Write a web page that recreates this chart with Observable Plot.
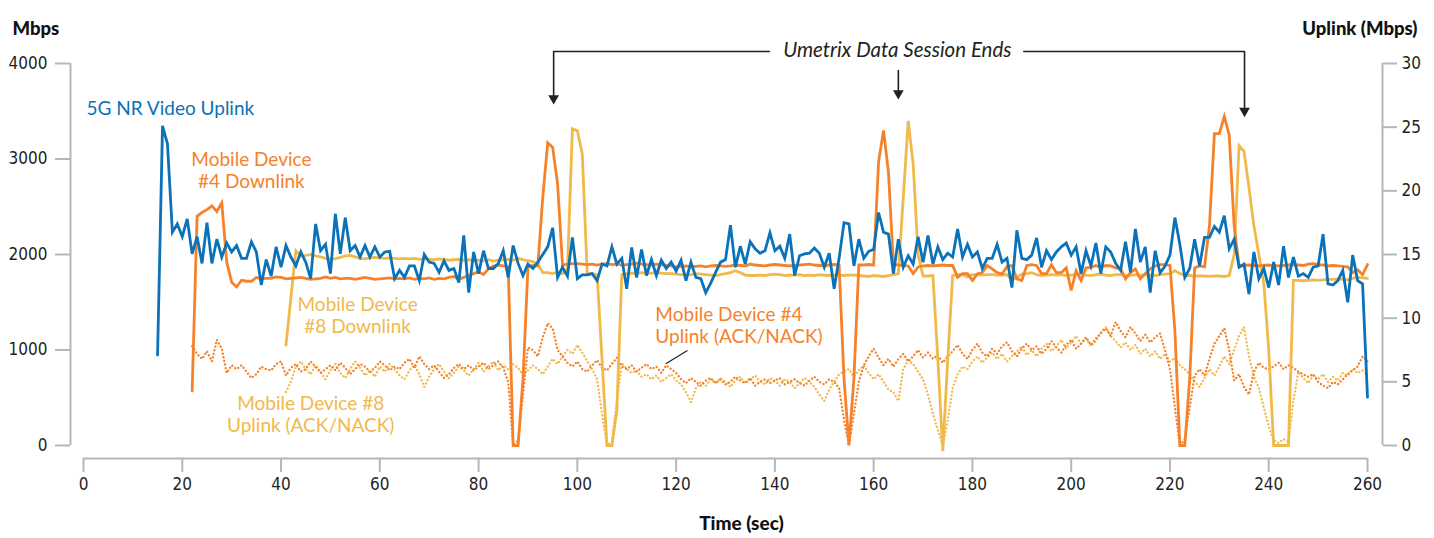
<!DOCTYPE html>
<html><head><meta charset="utf-8">
<script src="https://cdn.jsdelivr.net/npm/d3@7"></script>
<script src="https://cdn.jsdelivr.net/npm/@observablehq/plot@0.6"></script>
<style>
html,body{margin:0;padding:0;background:#fff;}
#chart svg{display:block;}
</style></head><body><div id="chart"></div>
<script>
// ---- tick labels ----
const xTicks = [0, 20, 40, 60, 80, 100, 120, 140, 160, 180, 200, 220, 240, 260];
const leftTicks = [0, 1000, 2000, 3000, 4000];      // Mbps
const rightTicks = [0, 5, 10, 15, 20, 25, 30];        // Uplink (Mbps)
const leftMax = 4000, rightMax = 30;

// ---- series (one value per second) ----
// 5G NR Video Uplink, right axis (Uplink Mbps), starts t=15
const videoUplinkStart = 15;
const videoUplink = [
  7.1, 25.1, 23.7, 16.75, 17.4,
  16.4, 17.8, 15.05, 16.4, 14.3, 17.5, 14.3, 16.2, 14.8, 15.9,
  15.2, 15.7, 14.7, 14.7, 16.0, 15.2, 12.6, 14.6, 13.3, 15.6,
  14.0, 15.7, 14.8, 14.1, 15.2, 14.4, 13.1, 17.4, 15.3, 15.8,
  13.5, 18.2, 15.05, 17.9, 15.3, 15.7, 14.8, 15.7, 14.8, 15.6,
  14.8, 15.2, 15.25, 13.1, 13.75, 13.2, 14.1, 14.1, 12.95, 15.0,
  14.4, 14.3, 13.6, 14.5, 13.75, 13.9, 12.8, 16.5, 12.0, 15.2,
  13.5, 15.3, 13.9, 13.9, 14.3, 15.3, 13.2, 15.7, 14.3, 13.35,
  14.25, 13.9, 14.4, 15.0, 15.6, 17.1, 13.2, 14.0, 13.3, 16.35,
  13.1, 13.4, 13.4, 13.5, 12.95, 14.25, 14.1, 15.6, 14.25, 14.7,
  12.3, 15.55, 13.2, 15.4, 13.35, 14.6, 13.35, 14.55, 13.9, 14.4,
  13.7, 14.55, 12.95, 14.4, 13.2, 13.1, 12.0, 12.75, 13.6, 14.4,
  14.6, 17.3, 14.0, 15.65, 14.25, 16.0, 15.45, 15.1, 15.3, 16.7,
  15.3, 15.65, 14.7, 16.6, 13.35, 14.9, 15.05, 15.1, 15.5, 15.1,
  14.0, 15.1, 12.3, 14.7, 17.5, 17.4, 14.1, 16.2, 14.7, 15.25,
  15.4, 18.3, 16.75, 16.6, 13.5, 16.2, 14.0, 14.9, 14.25, 16.4,
  14.4, 16.5, 14.25, 15.6, 14.6, 15.1, 14.8, 17.0, 14.8, 15.8,
  14.8, 15.2, 13.9, 14.7, 14.7, 15.8, 14.4, 14.7, 12.4, 16.9,
  14.7, 14.6, 14.95, 16.3, 14.0, 15.3, 14.6, 15.2, 15.6, 15.9,
  14.95, 15.6, 13.5, 15.3, 14.1, 15.9, 13.5, 15.6, 15.2, 14.3,
  13.75, 16.0, 13.6, 17.0, 14.4, 15.6, 12.0, 15.3, 13.55, 14.1,
  14.95, 17.9, 15.8, 13.2, 13.9, 16.2, 14.1, 16.35, 16.35, 17.2,
  16.75, 18.05, 15.45, 16.2, 14.0, 14.25, 11.9, 15.2, 13.1, 13.9,
  12.4, 14.4, 12.6, 15.65, 13.2, 14.8, 13.3, 13.5, 13.2, 14.0,
  14.1, 16.6, 12.7, 12.6, 12.95, 13.75, 11.25, 14.95, 12.95, 12.7,
  3.8
];

// Mobile Device #4 Downlink, left axis (Mbps), starts t=22
const device4DownStart = 22;
const device4Downlink = [
  570, 2400, 2440, 2470, 2510, 2450, 2540, 1920,
  1710, 1660, 1730, 1720, 1720, 1760, 1745, 1750, 1750, 1765,
  1760, 1745, 1750, 1755, 1760, 1750, 1740, 1745, 1750, 1765,
  1750, 1760, 1745, 1750, 1750, 1740, 1750, 1760, 1750, 1740,
  1745, 1750, 1755, 1745, 1750, 1745, 1755, 1740, 1750, 1745,
  1755, 1740, 1750, 1745, 1760, 1770, 1740, 1760, 1780, 1800,
  1820, 1790, 1850, 1880, 1890, 1880, 1870, 0, 0, 700,
  1870, 1885, 1880, 2600, 3170, 3120, 2740, 1890, 1900, 1905,
  1905, 1900, 1895, 1900, 1890, 1900, 1905, 1895, 1900, 1890,
  1895, 1900, 1910, 1900, 1895, 1890, 1900, 1895, 1885, 1880,
  1870, 1875, 1880, 1870, 1875, 1880, 1870, 1880, 1885, 1880,
  1875, 1880, 1890, 1885, 1880, 1900, 1890, 1885, 1880, 1890,
  1895, 1890, 1885, 1880, 1885, 1890, 1895, 1900, 1890, 1885,
  1880, 1890, 1895, 1890, 700, 0, 700, 1890, 1890, 1895,
  1890, 2970, 3300, 2860, 1900, 1890, 1885, 1880, 1800, 1870,
  1880, 1885, 1880, 1885, 1890, 1885, 1885, 1762, 1800, 1800,
  1728, 1795, 1810, 1885, 1850, 1810, 1795, 1875, 1885, 1745,
  1728, 1885, 1893, 1885, 1800, 1800, 1893, 1810, 1810, 1860,
  1623, 1830, 1728, 1860, 1865, 1885, 1865, 1885, 1880, 1860,
  1850, 1745, 1810, 1850, 1745, 1800, 1850, 1880, 1893, 1893,
  1885, 1200, 0, 0, 700, 1860, 1880, 1870, 2300, 3265,
  3265, 3445, 3250, 2300, 1880, 1885, 1890, 1885, 1880, 1885,
  1890, 1885, 1880, 1885, 1890, 1895, 1890, 1885, 1900, 1905,
  1895, 1890, 1880, 1885, 1880, 1875, 1870, 1810, 1840, 1790,
  1895
];

// Mobile Device #8 Downlink, left axis (Mbps), starts t=41
const device8DownStart = 41;
const device8Downlink = [
  1050, 1550, 2040, 1985, 1990, 2000, 1985, 1975, 1960,
  1955, 1955, 1970, 1985, 1990, 1975, 1960, 1955, 1965, 1970,
  1965, 1960, 1965, 1960, 1955, 1960, 1955, 1960, 1950, 1955,
  1950, 1945, 1955, 1950, 1940, 1945, 1950, 1940, 1945, 1935,
  1940, 1935, 1945, 1930, 1940, 1945, 1950, 1940, 1960, 1945,
  1935, 1925, 1900, 1810, 1810, 1800, 1815, 1800, 1850, 3316,
  3295, 3054, 1800, 1800, 1790, 895, 0, 0, 370, 1790,
  1800, 1805, 1800, 1810, 1800, 1805, 1810, 1805, 1800, 1800,
  1795, 1790, 1785, 1790, 1800, 1795, 1790, 1785, 1780, 1790,
  1800, 1810, 1830, 1810, 1785, 1780, 1780, 1785, 1780, 1790,
  1795, 1790, 1780, 1785, 1785, 1790, 1780, 1785, 1780, 1790,
  1785, 1780, 1785, 1790, 1780, 1785, 1785, 1780, 1775, 1770,
  1780, 1775, 1770, 1780, 1790, 1800, 2600, 3400, 2950, 2000,
  1775, 1775, 1780, 900, -60, 900, 1780, 1790, 1790, 1765,
  1790, 1790, 1785, 1790, 1790, 1785, 1785, 1790, 1730, 1760,
  1795, 1800, 1810, 1790, 1780, 1785, 1790, 1785, 1790, 1780,
  1785, 1790, 1795, 1785, 1780, 1790, 1795, 1785, 1780, 1790,
  1790, 1780, 1785, 1790, 1780, 1790, 1785, 1780, 1790, 1795,
  1800, 1830, 1800, 1780, 1780, 1775, 1775, 1775, 1770, 1775,
  1775, 1770, 1780, 2000, 3140, 3080, 2700, 2300, 2000, 1700,
  1000, 0, 0, 0, 0, 1730, 1730, 1725, 1730, 1735,
  1730, 1735, 1740, 1740, 1745, 1740, 1735, 1750, 1760, 1755,
  1750
];

// Mobile Device #4 Uplink (ACK/NACK), right axis, starts t=22
const device4UpStart = 22;
const device4Uplink = [
  7.8, 7.2, 6.8, 7.4, 6.6, 8.3, 7.6, 5.7,
  6.3, 6.0, 6.3, 5.8, 5.3, 5.6, 6.2, 6.0, 5.9, 6.4,
  6.6, 5.5, 6.1, 6.4, 5.8, 6.0, 6.6, 6.2, 5.7, 6.0,
  6.3, 5.9, 6.5, 6.1, 5.6, 6.0, 6.4, 6.2, 5.8, 6.1,
  6.6, 6.3, 5.9, 6.2, 6.0, 6.5, 6.8, 6.1, 7.0, 6.4,
  6.0, 6.3, 5.8, 5.3, 5.6, 6.1, 6.4, 6.0, 6.3, 5.9,
  6.2, 6.5, 6.0, 6.3, 6.6, 6.1, 5.0, 0.0, 0.4, 4.0,
  7.7, 7.5, 7.0, 8.5, 9.6, 9.2, 7.5, 7.0, 6.5, 6.2,
  6.6, 6.0, 5.8, 6.3, 6.7, 6.1, 5.9, 6.4, 6.9, 6.2,
  6.0, 6.3, 5.8, 6.1, 6.4, 6.0, 6.2, 5.7, 6.3, 6.0,
  5.7, 5.2, 4.9, 5.3, 5.0, 4.7, 5.1, 5.3, 4.9, 5.2,
  4.8, 5.0, 5.4, 5.1, 4.9, 5.3, 4.7, 5.0, 5.2, 4.9,
  5.1, 5.3, 4.8, 5.0, 5.2, 4.9, 4.7, 5.1, 5.4, 5.0,
  4.8, 5.2, 5.0, 4.5, 2.0, 0.0, 2.5, 5.0, 6.3, 7.0,
  7.6, 6.9, 6.3, 6.8, 6.2, 6.8, 7.2, 6.6, 7.0, 7.5,
  6.9, 7.3, 6.8, 7.1, 6.5, 7.0, 7.4, 7.9, 7.2, 6.8,
  7.5, 8.0, 7.3, 7.0, 7.6, 7.2, 7.8, 8.1, 7.4, 7.0,
  7.6, 8.0, 7.5, 7.8, 7.2, 7.6, 8.2, 7.7, 7.3, 7.9,
  8.3, 7.6, 8.0, 8.5, 7.9, 8.4, 8.8, 9.2, 8.6, 9.7,
  9.0, 8.5, 9.3, 8.8, 8.2, 8.7, 8.1, 8.5, 8.8, 7.5,
  6.0, 3.0, 0.0, 0.5, 3.0, 5.5, 6.0, 5.5, 6.8, 8.0,
  8.6, 9.2, 7.5, 5.1, 5.6, 4.6, 4.0, 5.8, 6.5, 6.1,
  6.0, 6.2, 6.5, 6.0, 6.3, 6.1, 5.8, 5.6, 5.4, 5.6,
  5.0, 4.7, 4.5, 5.0, 4.8, 5.2, 5.6, 5.9, 6.2, 7.0,
  6.6
];

// Mobile Device #8 Uplink (ACK/NACK), right axis, starts t=41
const device8UpStart = 41;
const device8Uplink = [
  4.2, 5.0, 6.2, 6.6, 6.0, 5.6, 6.3, 5.8, 5.2,
  5.9, 6.4, 5.7, 5.3, 6.0, 6.6, 6.1, 5.5, 5.9, 5.4,
  6.2, 5.8, 6.4, 6.0, 5.5, 5.2, 5.9, 6.3, 5.6, 4.6,
  5.4, 6.0, 6.4, 5.8, 5.3, 5.7, 6.2, 5.9, 5.5, 6.0,
  6.5, 5.8, 6.2, 6.6, 5.9, 6.3, 6.0, 6.4, 6.1, 5.5,
  5.9, 6.3, 6.0, 5.6, 6.2, 6.8, 6.4, 7.0, 7.5, 7.2,
  7.9, 7.3, 6.6, 6.0, 5.2, 2.5, 0.0, 0.3, 3.5, 6.5,
  6.0, 5.7, 5.9, 5.4, 5.6, 5.2, 5.5, 5.0, 5.3, 5.6,
  5.1, 4.8, 4.2, 3.4, 4.5, 5.0, 4.7, 5.2, 4.9, 5.3,
  5.0, 4.6, 5.1, 5.4, 4.9, 5.2, 5.5, 5.0, 4.8, 5.3,
  5.1, 4.7, 5.2, 5.0, 4.5, 4.9, 5.3, 5.0, 4.6, 4.0,
  3.5, 4.4, 5.0, 5.6, 5.8, 6.0, 5.4, 5.9, 6.3, 5.7,
  5.2, 5.6, 5.0, 4.4, 4.2, 3.5, 6.0, 6.7, 6.4, 5.8,
  5.2, 4.0, 2.5, 1.2, 0.0, 2.0, 4.5, 5.6, 6.2, 6.0,
  6.6, 7.0, 6.5, 6.9, 7.3, 6.8, 7.2, 6.6, 7.0, 7.4,
  7.8, 7.1, 7.5, 7.0, 7.6, 8.0, 7.4, 7.8, 8.3, 7.6,
  8.1, 8.6, 8.0, 8.4, 7.8, 8.2, 8.9, 9.3, 8.6, 8.2,
  7.7, 8.1, 7.5, 7.9, 7.2, 7.6, 7.0, 7.4, 6.8, 7.2,
  6.6, 6.9, 6.3, 6.0, 5.6, 5.0, 4.6, 5.3, 6.0, 5.5,
  6.2, 7.0, 6.4, 7.5, 8.6, 9.3, 7.0, 5.4, 4.5, 3.0,
  1.5, 0.4, 0.2, 0.5, 0.3, 3.5, 5.8, 5.3, 4.9, 5.5,
  5.2, 5.6, 5.0, 5.4, 5.1, 5.7, 5.5, 6.0, 5.7, 5.9,
  5.6
];

// ---- colours & fonts ----
const BLUE = "#0a72b8", ORANGE = "#f5822a", YELLOW = "#f1b94a", INK = "#231f20", GRID = "#b7b7b9";
const labelFont = "Lato, 'Open Sans', sans-serif";
const tickFont = "'Liberation Sans Narrow', 'DejaVu Sans Condensed', 'Arial Narrow', sans-serif";

const toLeft = u => u * leftMax / rightMax;
const series = (start, vals, conv) => vals.map((v, i) => ({t: start + i, v: conv ? conv(v) : v}));

const video = series(videoUplinkStart, videoUplink, toLeft);
const d4down = series(device4DownStart, device4Downlink);
const d8down = series(device8DownStart, device8Downlink);
const d4up = series(device4UpStart, device4Uplink, toLeft);
const d8up = series(device8UpStart, device8Uplink, toLeft);

const solid = {x: "t", y: "v", strokeWidth: 2.8, strokeLinejoin: "miter", strokeMiterlimit: 4, curve: "linear"};
const dotted = {x: "t", y: "v", strokeWidth: 2.3, strokeDasharray: "0.1 3.6", strokeLinecap: "round", strokeLinejoin: "round"};

// annotations (data coordinates)
const labelsStart = [
  {t: 0.6, v: 3540, text: "5G NR Video Uplink", color: BLUE},
  {t: 115.8, v: 1267, text: "Mobile Device #4\nUplink (ACK/NACK)", color: ORANGE}
];
const labelsMiddle = [
  {t: 34, v: 2890, text: "Mobile Device\n#4 Downlink", color: ORANGE},
  {t: 55.5, v: 1366, text: "Mobile Device\n#8 Downlink", color: YELLOW},
  {t: 46, v: 335, text: "Mobile Device #8\nUplink (ACK/NACK)", color: YELLOW}
];
const calloutText = "Umetrix Data Session Ends";
const calloutPos = {t: 164.8, v: 4136};
const bracketLeft = [{t: 138.9, v: 4125}, {t: 95.2, v: 4125}, {t: 95.2, v: 3640}];
const bracketRight = [{t: 190.4, v: 4125}, {t: 235.1, v: 4125}, {t: 235.1, v: 3505}];
const bracketMid = [{t: 165.0, v: 3927}, {t: 165.0, v: 3690}];
const arrowHeads = [{t: 95.2, v: 3635}, {t: 165.0, v: 3688}, {t: 235.1, v: 3503}];
const pointer = [{t1: 122.3, v1: 995, t2: 117.9, v2: 855}];

const labelStyle = {x: "t", y: "v", text: "text", fill: "color", fontFamily: labelFont, fontSize: 19, lineHeight: 1.17};

const chart = Plot.plot({
  width: 1434, height: 538,
  marginLeft: 83, marginRight: 67, marginTop: 63, marginBottom: 93,
  x: {domain: [0, 260]},
  y: {domain: [0, leftMax]},
  style: {fontFamily: tickFont, fontSize: "17px", color: INK, background: "#fff", overflow: "visible"},
  marks: [
    // axis lines
    Plot.ruleX([0], {y1: 0, y2: leftMax, dx: -13, stroke: GRID, strokeWidth: 2}),
    Plot.ruleX([260], {y1: 0, y2: leftMax, dx: 15, stroke: GRID, strokeWidth: 2}),
    Plot.ruleY([0], {x1: 0, x2: 260, dy: 13, stroke: GRID, strokeWidth: 2}),
    Plot.axisY({anchor: "left", ticks: leftTicks, tickFormat: d3.format("d"), tickSize: 15, tickPadding: 8, dx: -13,
      stroke: GRID, strokeWidth: 2, fill: INK, label: null, fontSize: 17}),
    Plot.axisY({anchor: "right", ticks: rightTicks.map(toLeft), tickFormat: d => String(Math.round(d * rightMax / leftMax)),
      tickSize: 14, tickPadding: 5, dx: 15, stroke: GRID, strokeWidth: 2, fill: INK, label: null, fontSize: 17}),
    Plot.axisX({anchor: "bottom", ticks: xTicks, tickFormat: d3.format("d"), tickSize: 14, tickPadding: 5, dy: 13,
      stroke: GRID, strokeWidth: 2, fill: INK, label: null, fontSize: 17}),

    // data
    Plot.line(d8up, {...dotted, stroke: YELLOW}),
    Plot.line(d4up, {...dotted, stroke: ORANGE}),
    Plot.line(d8down, {...solid, stroke: YELLOW}),
    Plot.line(d4down, {...solid, stroke: ORANGE}),
    Plot.line(video, {...solid, stroke: BLUE}),

    // series labels
    Plot.text(labelsStart, {...labelStyle, textAnchor: "start"}),
    Plot.text(labelsMiddle, {...labelStyle, textAnchor: "middle"}),
    Plot.link(pointer, {x1: "t1", y1: "v1", x2: "t2", y2: "v2", stroke: INK, strokeWidth: 1.2}),

    // callout
    Plot.text([calloutText], {x: calloutPos.t, y: calloutPos.v, fontFamily: labelFont, fontStyle: "italic",
      fontSize: 20.5, fill: INK}),
    Plot.line(bracketLeft, {x: "t", y: "v", stroke: INK, strokeWidth: 1.6}),
    Plot.line(bracketRight, {x: "t", y: "v", stroke: INK, strokeWidth: 1.6}),
    Plot.line(bracketMid, {x: "t", y: "v", stroke: INK, strokeWidth: 1.6}),
    Plot.dot(arrowHeads, {x: "t", y: "v", symbol: "triangle", rotate: 180, r: 4, fill: INK, stroke: null}),

    // axis titles
    Plot.text(["Mbps"], {frameAnchor: "top-left", dx: -71, dy: -42, textAnchor: "start",
      fontFamily: labelFont, fontWeight: 900, fontSize: 18.5, fill: "#111"}),
    Plot.text(["Uplink (Mbps)"], {frameAnchor: "top-right", dx: 50, dy: -42, textAnchor: "end",
      fontFamily: labelFont, fontWeight: 900, fontSize: 18.5, fill: "#111"}),
    Plot.text(["Time (sec)"], {frameAnchor: "bottom", dx: 16, dy: 84,
      fontFamily: labelFont, fontWeight: 900, fontSize: 19, fill: "#111"})
  ]
});
document.getElementById("chart").append(chart);
</script>
</body></html>
